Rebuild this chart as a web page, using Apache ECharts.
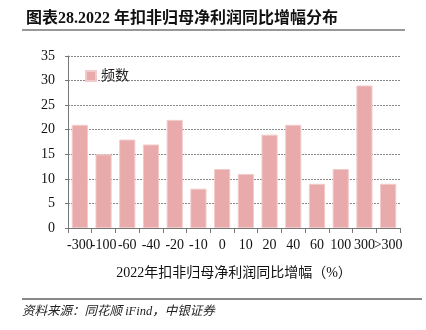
<!DOCTYPE html>
<html>
<head>
<meta charset="utf-8">
<script src="https://cdn.jsdelivr.net/npm/echarts@6/dist/echarts.min.js"></script>
<style>html,body{margin:0;padding:0;background:#fff;}#c{width:426px;height:330px;}</style>
</head>
<body>
<div id="c"></div>
<script>
const categories = ['-300','-100','-60','-40','-20','-10','0','10','20','40','60','100','300','>300'];
const freq = [21,15,18,17,22,8,12,11,19,21,9,12,29,9];
const yTicks = {min:0, max:35, interval:5};
const seriesName = '频数';
const xAxisName = '2022年扣非归母净利润同比增幅（%）';
const titleText = '图表28.2022 年扣非归母净利润同比增幅分布';
const sourceText = '资料来源：同花顺 iFind，中银证券';

const FONT = '"Liberation Serif", "Noto Sans CJK SC", serif';
const chart = echarts.init(document.getElementById('c'), null, {renderer:'canvas'});
chart.setOption({
  animation:false,
  backgroundColor:'#fff',
  title:{
    text:titleText, left:21, top:6,
    textStyle:{fontFamily:'"Liberation Serif", "Noto Sans CJK SC"', fontWeight:'bold', fontSize:16, color:'#111'}
  },
  graphic:[
    {type:'line', shape:{x1:22,y1:30,x2:405,y2:30}, style:{stroke:'#333', lineWidth:1}},
    {type:'line', shape:{x1:22,y1:299,x2:422,y2:299}, style:{stroke:'#888', lineWidth:2}},
    {type:'text', left:22, top:305, style:{text:sourceText, font:'italic 12.5px "Liberation Serif", "Noto Sans CJK SC"', fill:'#222'}}
  ],
  legend:{
    show:true, left:80, top:64, itemWidth:10, itemHeight:10, itemGap:6,
    textStyle:{fontFamily:FONT, fontSize:14, color:'#222'},
    data:[{name:seriesName, icon:'rect'}]
  },
  grid:{left:68, right:26, top:56, bottom:102, containLabel:false},
  xAxis:{
    type:'category', data:categories,
    name:xAxisName, nameLocation:'middle', nameGap:38,
    nameTextStyle:{fontFamily:FONT, fontSize:14, color:'#111'},
    axisLine:{lineStyle:{color:'#777'}},
    axisTick:{show:true, alignWithLabel:false, length:5, lineStyle:{color:'#777'}},
    axisLabel:{interval:0, hideOverlap:false, fontFamily:FONT, fontSize:14, color:'#111', margin:10}
  },
  yAxis:{
    type:'value', min:yTicks.min, max:yTicks.max, interval:yTicks.interval,
    axisLine:{show:true, lineStyle:{color:'#777'}},
    axisTick:{show:true, length:3, inside:false, lineStyle:{color:'#777'}},
    axisLabel:{fontFamily:FONT, fontSize:14, color:'#111', margin:13},
    splitLine:{show:true, lineStyle:{color:'#888', type:[2,1], width:1}}
  },
  series:[{
    name:seriesName, type:'bar', data:freq, barCategoryGap:'32%',
    itemStyle:{color:'#E8AAAA', borderColor:'#F2CACA', borderWidth:1}
  }]
});
</script>
</body>
</html>
